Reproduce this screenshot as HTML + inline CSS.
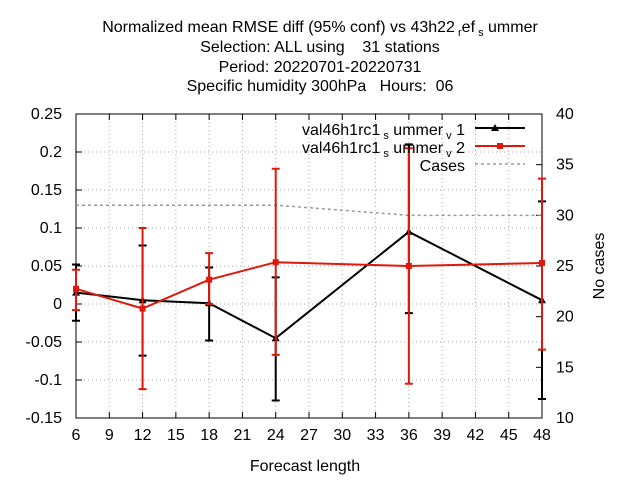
<!DOCTYPE html>
<html><head><meta charset="utf-8"><style>
body{margin:0;background:#fff}
svg{font-family:"Liberation Sans",sans-serif;font-size:16px}
.pre{white-space:pre}
</style></head><body>
<svg id="c" width="640" height="480">
<g text-anchor="middle" font-size="16" class="pre">
<text x="320" y="32" class="pre">Normalized mean RMSE diff (95% conf) vs 43h22<tspan font-size="11" dy="4"> r</tspan><tspan dy="-4">ef</tspan><tspan font-size="11" dy="4"> s</tspan><tspan dy="-4"> ummer</tspan></text>
<text x="320" y="52" class="pre">Selection: ALL using    31 stations</text>
<text x="320" y="72" class="pre">Period: 20220701-20220731</text>
<text x="320" y="91" class="pre">Specific humidity 300hPa   Hours:  06</text>
</g>
<g id="axes"></g>
<g id="series"></g>
<text x="305" y="471" text-anchor="middle">Forecast length</text>
<text transform="translate(604,266) rotate(-90)" text-anchor="middle">No cases</text>
<g text-anchor="end" class="pre">
<text x="465" y="135" class="pre">val46h1rc1<tspan font-size="11" dy="4"> s</tspan><tspan dy="-4"> ummer</tspan><tspan font-size="11" dy="4"> v</tspan><tspan dy="-4"> 1</tspan></text>
<text x="465" y="153" class="pre">val46h1rc1<tspan font-size="11" dy="4"> s</tspan><tspan dy="-4"> ummer</tspan><tspan font-size="11" dy="4"> v</tspan><tspan dy="-4"> 2</tspan></text>
<text x="465" y="171">Cases</text>
<line x1="475" y1="128" x2="525" y2="128" stroke="#000" stroke-width="2"/>
<path d="M495,124 l4,7 h-8z" fill="#000"/>
<line x1="475" y1="146" x2="525" y2="146" stroke="#e0180c" stroke-width="2"/>
<rect x="497" y="143" width="6" height="6" fill="#e0180c"/>
<line x1="475" y1="164" x2="525" y2="164" stroke="#999" stroke-width="1.5" stroke-dasharray="3,3"/>
</g>
</svg>
<script>
const hours=[6,12,18,24,36,48];
const v1=[0.015,0.005,0.001,-0.045,0.095,0.005];
const v1lo=[-0.022,-0.068,-0.048,-0.127,-0.012,-0.125];
const v1hi=[0.052,0.077,0.048,0.035,0.21,0.135];
const v2=[0.02,-0.006,0.032,0.055,0.05,0.054];
const v2lo=[-0.008,-0.112,0,-0.067,-0.105,-0.06];
const v2hi=[0.045,0.1,0.067,0.178,0.205,0.165];
const caseHours=[6,12,18,24,30,36,42,48];
const cases=[31,31,31,31,30.5,30,30,30];
const xTicks=[6,9,12,15,18,21,24,27,30,33,36,39,42,45,48];
const yTicks=[0.25,0.2,0.15,0.1,0.05,0,-0.05,-0.1,-0.15];
const y2Ticks=[40,35,30,25,20,15,10];
const L=76,R=542,T=114,B=418;
const X=h=>L+(h-6)/42*(R-L);
const Y=v=>T+(0.25-v)/0.4*(B-T);
const Y2=v=>T+(40-v)/30*(B-T);
const NS="http://www.w3.org/2000/svg";
function mk(tag,attrs,parent,txt){const e=document.createElementNS(NS,tag);for(const k in attrs)e.setAttribute(k,attrs[k]);if(txt!==undefined)e.textContent=txt;parent.appendChild(e);return e;}
const ax=document.getElementById('axes'),sr=document.getElementById('series');
xTicks.forEach(t=>{const x=X(t);
 if(t>6&&t<48){const g=mk('line',{x1:x,y1:T,x2:x,y2:B,stroke:'#aaa','stroke-dasharray':'1,3'},ax);}
 mk('line',{x1:x,y1:B,x2:x,y2:B-6,stroke:'#000'},ax);mk('line',{x1:x,y1:T,x2:x,y2:T+6,stroke:'#000'},ax);
 const l=mk('text',{x:x,y:B+22,'text-anchor':'middle'},ax,t);});
yTicks.forEach(t=>{const y=Y(t);
 if(t<0.25&&t>-0.15){const g=mk('line',{x1:L,y1:y,x2:R,y2:y,stroke:'#aaa','stroke-dasharray':'1,3'},ax);}
 mk('line',{x1:L,y1:y,x2:L+6,y2:y,stroke:'#000'},ax);
 const l=mk('text',{x:L-14,y:y+5,'text-anchor':'end'},ax,t);});
y2Ticks.forEach(t=>{const y=Y2(t);mk('line',{x1:R,y1:y,x2:R-6,y2:y,stroke:'#000'},ax);
 const l=mk('text',{x:R+14,y:y+5},ax,t);});
const fr=mk('rect',{x:L,y:T,width:R-L,height:B-T,fill:'none',stroke:'#000'},ax);

const cl=mk('polyline',{points:caseHours.map((h,i)=>X(h)+','+Y2(cases[i])).join(' '),fill:'none',stroke:'#999','stroke-width':1.5,'stroke-dasharray':'3,3'},sr);

function series(v,lo,hi,col,name,marker){
 const p=mk('polyline',{points:hours.map((h,i)=>X(h)+','+Y(v[i])).join(' '),fill:'none',stroke:col,'stroke-width':2},sr);
 
 hours.forEach((h,i)=>{const x=X(h);
  const e=mk('path',{d:`M${x},${Y(lo[i])}V${Y(hi[i])}M${x-4},${Y(lo[i])}h8M${x-4},${Y(hi[i])}h8`,stroke:col,'stroke-width':2,fill:'none'},sr);
  
  const y=Y(v[i]);let m;
  if(marker==='tri')m=mk('path',{d:`M${x},${y-4}l4,7h-8z`,fill:col},sr);
  else m=mk('rect',{x:x-3,y:y-3,width:6,height:6,fill:col},sr);
  });
}
series(v1,v1lo,v1hi,'#000','v1','tri');
series(v2,v2lo,v2hi,'#e0180c','v2','sq');
</script>
</body></html>
